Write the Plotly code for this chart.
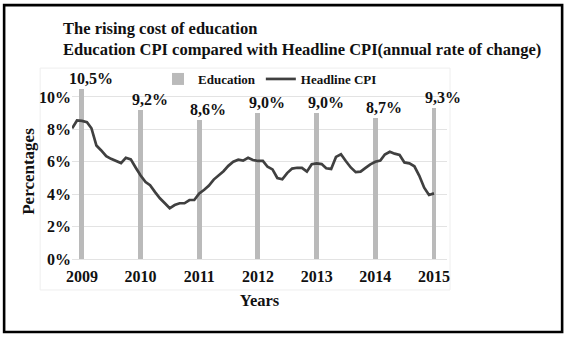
import pandas as pd
import plotly.graph_objects as go

# Education CPI, annual rate of change at the start of each year (%)
years = ["2009", "2010", "2011", "2012", "2013", "2014", "2015"]
education_cpi = [10.5, 9.2, 8.6, 9.0, 9.0, 8.7, 9.3]
education_labels = ["10,5%", "9,2%", "8,6%", "9,0%", "9,0%", "8,7%", "9,3%"]

# Headline CPI, monthly annual rate of change (%), Nov 2008 - Jan 2015
headline_start = "2008-11-01"
headline_cpi = [
    8.07, 8.55, 8.52, 8.45, 8.07, 7.00, 6.70, 6.35, 6.18, 6.06, 5.92, 6.25,
    6.15, 5.65, 5.15, 4.75, 4.55, 4.13, 3.75, 3.44, 3.13, 3.33, 3.44, 3.44,
    3.64, 3.64, 4.05, 4.27, 4.52, 4.90, 5.15, 5.42, 5.75, 6.00, 6.13, 6.07,
    6.25, 6.11, 6.05, 6.05, 5.69, 5.53, 5.00, 4.92, 5.30, 5.58, 5.63, 5.62,
    5.39, 5.85, 5.90, 5.86, 5.60, 5.56, 6.30, 6.46, 6.05, 5.65, 5.36, 5.39,
    5.62, 5.84, 6.00, 6.07, 6.45, 6.62, 6.50, 6.42, 5.96, 5.90, 5.72, 5.15,
    4.40, 3.95, 4.05,
]

y_ticks = [0, 2, 4, 6, 8, 10]

year_dates = pd.to_datetime([f"{y}-01-01" for y in years])
month_dates = pd.date_range(headline_start, periods=len(headline_cpi), freq="MS")

SERIF = "Liberation Serif"
INK = "#111111"
BAR_GREY = "#bababa"
LINE_DARK = "#404040"


def bold(s):
    return f"<b>{s}</b>"


fig = go.Figure()

fig.add_trace(go.Bar(
    x=year_dates,
    y=education_cpi,
    name=bold("Education"),
    marker=dict(color=BAR_GREY, line=dict(width=0)),
    width=31 * 86400000,
))

fig.add_trace(go.Scatter(
    x=month_dates,
    y=headline_cpi,
    name=bold("Headline CPI"),
    mode="lines",
    line=dict(color=LINE_DARK, width=2.7),
))

# value labels above each education bar
for d, v, lab in zip(year_dates, education_cpi, education_labels):
    fig.add_annotation(
        x=d, y=v, text=bold(lab), showarrow=False,
        yanchor="bottom", xanchor="center",
        xshift=9, yshift=0,
        font=dict(family=SERIF, size=16, color=INK),
    )

# outer frame and faint chart-area box
fig.add_shape(type="rect", xref="paper", yref="paper",
              x0=-0.181, x1=1.307, y0=-0.417, y1=1.451,
              line=dict(color="black", width=2.6), fillcolor="rgba(0,0,0,0)",
              layer="below")
fig.add_shape(type="rect", xref="paper", yref="paper",
              x0=-0.085, x1=1.008, y0=-0.177, y1=1.091,
              line=dict(color="#eeeeee", width=1), fillcolor="rgba(0,0,0,0)",
              layer="below")

fig.update_layout(
    width=567, height=338,
    margin=dict(l=72, r=120, t=84, b=79),
    paper_bgcolor="white",
    plot_bgcolor="white",
    bargap=0,
    showlegend=True,
    title=dict(
        text=bold("The rising cost of education<br>Education CPI compared with Headline CPI(annual rate of change)"),
        x=63 / 567, xref="container", xanchor="left",
        y=1 - 34 / 338, yref="container", yanchor="top",
        font=dict(family=SERIF, size=16.5, color=INK),
    ),
    legend=dict(
        orientation="h",
        x=(158 - 72) / 375, xanchor="left",
        y=(259 - 79) / 175, yanchor="middle",
        font=dict(family=SERIF, size=13, color=INK),
        bgcolor="rgba(0,0,0,0)",
        itemwidth=30,
        tracegroupgap=0,
    ),
    font=dict(family=SERIF, color=INK),
)

fig.update_xaxes(
    type="date",
    range=["2008-10-31", "2015-03-23"],
    tickvals=year_dates,
    ticktext=[bold(y) for y in years],
    tickfont=dict(family=SERIF, size=16, color=INK),
    ticklabelstandoff=6,
    showgrid=False,
    showline=False,
    zeroline=False,
    title=dict(text=bold("Years"), standoff=10,
               font=dict(family=SERIF, size=16.5, color=INK)),
)

fig.update_yaxes(
    range=[0, 10.8],
    tickvals=y_ticks,
    ticktext=[bold(f"{t}%") for t in y_ticks],
    tickfont=dict(family=SERIF, size=16, color=INK),
    showgrid=True,
    gridcolor="#e3e3e3",
    gridwidth=1,
    zeroline=True,
    zerolinecolor="#e3e3e3",
    zerolinewidth=1,
    showline=False,
    title=dict(text=bold("Percentages"), standoff=0,
               font=dict(family=SERIF, size=17, color=INK)),
)

fig.write_html("out.html")
